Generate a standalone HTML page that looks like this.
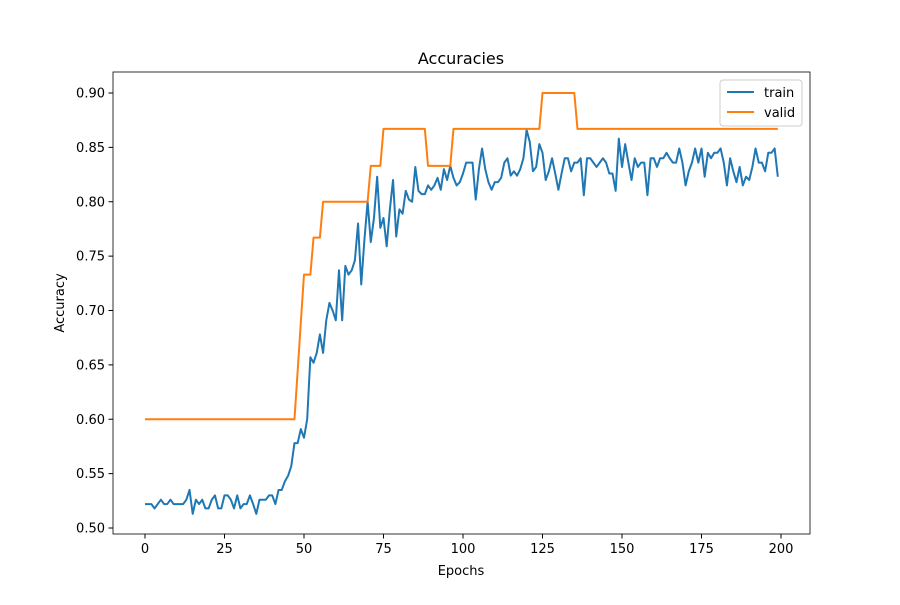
<!DOCTYPE html>
<html><head><meta charset="utf-8"><style>
body{margin:0;background:#fff;font-family:"Liberation Sans","DejaVu Sans",sans-serif}
text{font-family:"DejaVu Sans","Liberation Sans",sans-serif}
</style></head><body>
<svg id="chart" width="900" height="600" xmlns="http://www.w3.org/2000/svg">
<rect width="900" height="600" fill="#fff"/>
<text x="461" y="64" font-size="16" text-anchor="middle">Accuracies</text>
<text x="461" y="575" font-size="13" text-anchor="middle">Epochs</text>
<text transform="translate(64,303) rotate(-90)" font-size="13" text-anchor="middle">Accuracy</text>
<g id="ticks"></g>
<g id="series"></g>
<rect x="113" y="72" width="697" height="462" fill="none" stroke="#000" stroke-width="0.8"/>
<g>
<rect x="720" y="80" width="82" height="46" rx="3" fill="#fff" fill-opacity="0.8" stroke="#ccc"/>
<line x1="727" y1="92" x2="754" y2="92" stroke="#1f77b4" stroke-width="2"/>
<text x="764" y="97" font-size="13">train</text>
<line x1="727" y1="112" x2="754" y2="112" stroke="#ff7f0e" stroke-width="2"/>
<text x="764" y="117" font-size="13">valid</text>
</g>
</svg>
<script>
const trainAcc=[0.522,0.522,0.522,0.518,0.522,0.526,0.522,0.522,0.526,0.522,0.522,0.522,0.522,0.526,0.535,0.513,0.526,0.522,0.526,0.518,0.518,0.526,0.530,0.518,0.518,0.530,0.530,0.526,0.518,0.530,0.518,0.522,0.522,0.530,0.522,0.513,0.526,0.526,0.526,0.530,0.530,0.522,0.535,0.535,0.543,0.548,0.557,0.578,0.578,0.591,0.583,0.600,0.657,0.652,0.661,0.678,0.661,0.691,0.707,0.700,0.691,0.737,0.691,0.741,0.733,0.737,0.746,0.780,0.724,0.765,0.800,0.763,0.785,0.823,0.776,0.785,0.759,0.793,0.820,0.768,0.793,0.789,0.810,0.802,0.800,0.832,0.810,0.807,0.807,0.815,0.811,0.815,0.822,0.811,0.830,0.820,0.833,0.822,0.815,0.818,0.826,0.836,0.836,0.836,0.802,0.830,0.849,0.830,0.818,0.811,0.818,0.818,0.822,0.836,0.840,0.824,0.828,0.824,0.830,0.840,0.866,0.855,0.828,0.832,0.853,0.845,0.820,0.828,0.840,0.826,0.811,0.826,0.840,0.840,0.828,0.836,0.836,0.840,0.806,0.840,0.840,0.836,0.832,0.836,0.840,0.836,0.826,0.826,0.810,0.858,0.832,0.853,0.836,0.820,0.840,0.832,0.836,0.836,0.806,0.840,0.840,0.832,0.840,0.840,0.845,0.840,0.836,0.836,0.849,0.836,0.815,0.828,0.836,0.849,0.836,0.849,0.823,0.845,0.840,0.845,0.845,0.849,0.836,0.815,0.840,0.828,0.818,0.832,0.815,0.823,0.820,0.832,0.849,0.836,0.836,0.828,0.845,0.845,0.849,0.823];
const validSteps=[[0,47,0.6],[48,48,0.644],[49,49,0.689],[50,52,0.733],[53,55,0.767],[56,70,0.8],[71,74,0.833],[75,88,0.867],[89,96,0.833],[97,124,0.867],[125,135,0.9],[136,199,0.867]];
const validAcc=[];
validSteps.forEach(s=>{for(let i=s[0];i<=s[1];i++)validAcc[i]=s[2];});
const xTicks=[0,25,50,75,100,125,150,175,200];
const yTicks=[0.50,0.55,0.60,0.65,0.70,0.75,0.80,0.85,0.90];

const xs=v=>145+v*(781-145)/200;
const ys=v=>528-(v-0.5)*(528-93)/0.4;
const NS="http://www.w3.org/2000/svg";
const tg=document.getElementById('ticks');
xTicks.forEach(t=>{
  const l=document.createElementNS(NS,'line');
  l.setAttribute('x1',xs(t));l.setAttribute('x2',xs(t));l.setAttribute('y1',534);l.setAttribute('y2',538.5);l.setAttribute('stroke','#000');
  
  
  tg.appendChild(l);
  const tx=document.createElementNS(NS,'text');
  tx.setAttribute('x',xs(t));tx.setAttribute('y',553);tx.setAttribute('font-size','13');tx.setAttribute('text-anchor','middle');
  tx.textContent=t;
  
  
  tg.appendChild(tx);
});
yTicks.forEach(t=>{
  const l=document.createElementNS(NS,'line');
  l.setAttribute('x1',108.5);l.setAttribute('x2',113);l.setAttribute('y1',ys(t));l.setAttribute('y2',ys(t));l.setAttribute('stroke','#000');
  
  
  tg.appendChild(l);
  const tx=document.createElementNS(NS,'text');
  tx.setAttribute('x',105);tx.setAttribute('y',ys(t)+4.5);tx.setAttribute('font-size','13');tx.setAttribute('text-anchor','end');
  tx.textContent=t.toFixed(2);
  
  
  tg.appendChild(tx);
});
const sg=document.getElementById('series');
function line(arr,color,name){
  const p=document.createElementNS(NS,'polyline');
  p.setAttribute('points',arr.map((v,i)=>xs(i).toFixed(2)+','+ys(v).toFixed(2)).join(' '));
  p.setAttribute('fill','none');p.setAttribute('stroke',color);p.setAttribute('stroke-width','2');p.setAttribute('stroke-linejoin','round');
  
  
  sg.appendChild(p);
}
line(trainAcc,'#1f77b4','train-line');
line(validAcc,'#ff7f0e','valid-line');
</script>
</body></html>
